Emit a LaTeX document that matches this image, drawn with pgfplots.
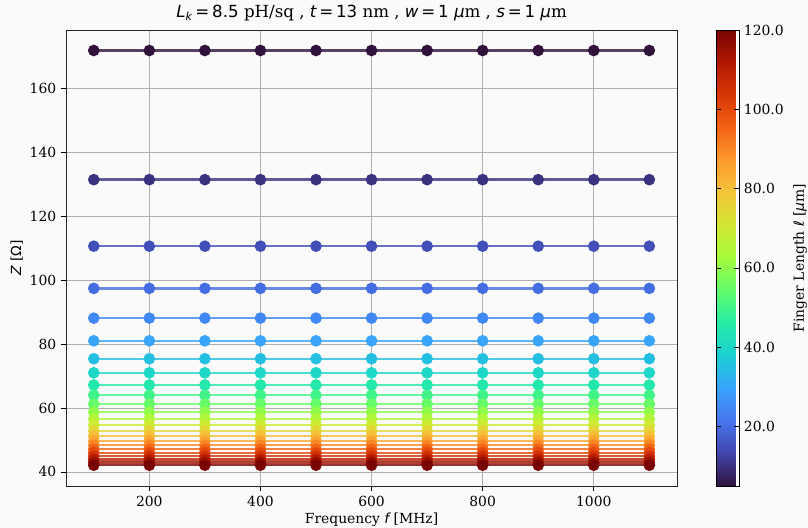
\documentclass[border=0pt]{standalone}
\usepackage{fontspec}
\setmainfont{DejaVu Serif}
\newfontfamily\dvs{DejaVu Sans}
\usepackage{pgfplots}
\pgfplotsset{compat=1.18}

% turbo colour map, 15 samples
\pgfplotsset{
  colormap={turbo}{
    rgb255=(48,18,59) rgb255=(65,69,171) rgb255=(70,117,237) rgb255=(57,162,252)
    rgb255=(27,207,212) rgb255=(36,236,166) rgb255=(97,252,108) rgb255=(164,252,59)
    rgb255=(209,232,52) rgb255=(243,198,58) rgb255=(254,155,45) rgb255=(243,99,21)
    rgb255=(217,56,6) rgb255=(177,25,1) rgb255=(122,4,2)
  }
}
\definecolor{bgc}{HTML}{FAFAFA}
\definecolor{gridc}{HTML}{B0B0B0}
\newcommand{\tfont}{\fontsize{10}{12}\selectfont}

\begin{document}
\begin{tikzpicture}
\useasboundingbox[fill=bgc] (-47.52pt,-30.24pt) rectangle (534.24pt,349.92pt);
\begin{axis}[
  at={(0,0)}, anchor=south west,
  scale only axis,
  width=440pt, height=328.3pt,
  xmin=50, xmax=1150, ymin=35.6, ymax=178.2,
  xtick={200,400,600,800,1000},
  ytick={40,60,80,100,120,140,160},
  grid=major,
  major grid style={gridc, line width=0.6pt},
  axis line style={black!85, line width=0.6pt},
  tick style={black, line width=0.6pt},
  tick align=outside, major tick length=3.5pt,
  xtick pos=bottom, ytick pos=left,
  /pgf/number format/assume math mode=true,
  /pgf/number format/1000 sep={},
  ticklabel style={font=\tfont},
  label style={font=\tfont},
  xlabel={Frequency {\dvs\itshape f} [MHz]},
  ylabel={{\dvs\itshape Z} [{\dvs Ω}]},
  xlabel style={yshift=2pt},
  ylabel style={yshift=-2pt},
  title style={font=\fontsize{12}{14}\selectfont, yshift=-3pt},
  title={{\dvs\itshape L\textsubscript{k}}{\dvs\,=\,8.5} pH/sq , {\dvs\itshape t}{\dvs\,=\,13} nm , {\dvs\itshape w}{\dvs\,=\,1} {\dvs\itshape µ}m , {\dvs\itshape s}{\dvs\,=\,1} {\dvs\itshape µ}m},
  axis background/.style={fill=bgc},
  colormap name=turbo,
  point meta min=5, point meta max=120,
  colorbar,
  colorbar shift/.style={xshift=28pt},
  colorbar style={
    at={(parent axis.north east)}, anchor=north west,
    width=16.6pt,
    font=\tfont,
    /pgf/number format/assume math mode=true,
    ytick={20,40,60,80,100,120},
    yticklabel={\pgfmathprintnumber[assume math mode=true,fixed,fixed zerofill,precision=1]{\tick}},
    yticklabel style={font=\tfont},
    ylabel={Finger Length {\dvs\itshape ℓ} [{\dvs\itshape µ}m]},
    ylabel style={font=\tfont, yshift=-2pt},
    ylabel near ticks, yticklabel pos=right,
    axis line style={black, line width=0.6pt},
    tick style={black, line width=0.6pt},
    major tick length=3.5pt,
  },
  every axis plot/.append style={line width=1.7pt, draw opacity=0.8,
    mark=*, mark size=3.3pt, mark options={solid, opacity=1}},
]
% finger length 5 um ... 120 um (colour value = (l-5)/115*1000)
\addplot[color of colormap={0}]      coordinates {(100,171.8)(200,171.8)(300,171.8)(400,171.8)(500,171.8)(600,171.8)(700,171.8)(800,171.8)(900,171.8)(1000,171.8)(1100,171.8)};
\addplot[color of colormap={43.48}]  coordinates {(100,131.4)(200,131.4)(300,131.4)(400,131.4)(500,131.4)(600,131.4)(700,131.4)(800,131.4)(900,131.4)(1000,131.4)(1100,131.4)};
\addplot[color of colormap={86.96}]  coordinates {(100,110.6)(200,110.6)(300,110.6)(400,110.6)(500,110.6)(600,110.6)(700,110.6)(800,110.6)(900,110.6)(1000,110.6)(1100,110.6)};
\addplot[color of colormap={130.43}] coordinates {(100,97.4)(200,97.4)(300,97.4)(400,97.4)(500,97.4)(600,97.4)(700,97.4)(800,97.4)(900,97.4)(1000,97.4)(1100,97.4)};
\addplot[color of colormap={173.91}] coordinates {(100,88.1)(200,88.1)(300,88.1)(400,88.1)(500,88.1)(600,88.1)(700,88.1)(800,88.1)(900,88.1)(1000,88.1)(1100,88.1)};
\addplot[color of colormap={217.39}] coordinates {(100,81.0)(200,81.0)(300,81.0)(400,81.0)(500,81.0)(600,81.0)(700,81.0)(800,81.0)(900,81.0)(1000,81.0)(1100,81.0)};
\addplot[color of colormap={260.87}] coordinates {(100,75.4)(200,75.4)(300,75.4)(400,75.4)(500,75.4)(600,75.4)(700,75.4)(800,75.4)(900,75.4)(1000,75.4)(1100,75.4)};
\addplot[color of colormap={304.35}] coordinates {(100,71.0)(200,71.0)(300,71.0)(400,71.0)(500,71.0)(600,71.0)(700,71.0)(800,71.0)(900,71.0)(1000,71.0)(1100,71.0)};
\addplot[color of colormap={347.83}] coordinates {(100,67.2)(200,67.2)(300,67.2)(400,67.2)(500,67.2)(600,67.2)(700,67.2)(800,67.2)(900,67.2)(1000,67.2)(1100,67.2)};
\addplot[color of colormap={391.30}] coordinates {(100,64.0)(200,64.0)(300,64.0)(400,64.0)(500,64.0)(600,64.0)(700,64.0)(800,64.0)(900,64.0)(1000,64.0)(1100,64.0)};
\addplot[color of colormap={434.78}] coordinates {(100,61.2)(200,61.2)(300,61.2)(400,61.2)(500,61.2)(600,61.2)(700,61.2)(800,61.2)(900,61.2)(1000,61.2)(1100,61.2)};
\addplot[color of colormap={478.26}] coordinates {(100,58.7)(200,58.7)(300,58.7)(400,58.7)(500,58.7)(600,58.7)(700,58.7)(800,58.7)(900,58.7)(1000,58.7)(1100,58.7)};
\addplot[color of colormap={521.74}] coordinates {(100,56.5)(200,56.5)(300,56.5)(400,56.5)(500,56.5)(600,56.5)(700,56.5)(800,56.5)(900,56.5)(1000,56.5)(1100,56.5)};
\addplot[color of colormap={565.22}] coordinates {(100,54.6)(200,54.6)(300,54.6)(400,54.6)(500,54.6)(600,54.6)(700,54.6)(800,54.6)(900,54.6)(1000,54.6)(1100,54.6)};
\addplot[color of colormap={608.70}] coordinates {(100,52.8)(200,52.8)(300,52.8)(400,52.8)(500,52.8)(600,52.8)(700,52.8)(800,52.8)(900,52.8)(1000,52.8)(1100,52.8)};
\addplot[color of colormap={652.17}] coordinates {(100,51.2)(200,51.2)(300,51.2)(400,51.2)(500,51.2)(600,51.2)(700,51.2)(800,51.2)(900,51.2)(1000,51.2)(1100,51.2)};
\addplot[color of colormap={695.65}] coordinates {(100,49.7)(200,49.7)(300,49.7)(400,49.7)(500,49.7)(600,49.7)(700,49.7)(800,49.7)(900,49.7)(1000,49.7)(1100,49.7)};
\addplot[color of colormap={739.13}] coordinates {(100,48.4)(200,48.4)(300,48.4)(400,48.4)(500,48.4)(600,48.4)(700,48.4)(800,48.4)(900,48.4)(1000,48.4)(1100,48.4)};
\addplot[color of colormap={782.61}] coordinates {(100,47.1)(200,47.1)(300,47.1)(400,47.1)(500,47.1)(600,47.1)(700,47.1)(800,47.1)(900,47.1)(1000,47.1)(1100,47.1)};
\addplot[color of colormap={826.09}] coordinates {(100,46.0)(200,46.0)(300,46.0)(400,46.0)(500,46.0)(600,46.0)(700,46.0)(800,46.0)(900,46.0)(1000,46.0)(1100,46.0)};
\addplot[color of colormap={869.57}] coordinates {(100,44.9)(200,44.9)(300,44.9)(400,44.9)(500,44.9)(600,44.9)(700,44.9)(800,44.9)(900,44.9)(1000,44.9)(1100,44.9)};
\addplot[color of colormap={913.04}] coordinates {(100,43.9)(200,43.9)(300,43.9)(400,43.9)(500,43.9)(600,43.9)(700,43.9)(800,43.9)(900,43.9)(1000,43.9)(1100,43.9)};
\addplot[color of colormap={956.52}] coordinates {(100,43.0)(200,43.0)(300,43.0)(400,43.0)(500,43.0)(600,43.0)(700,43.0)(800,43.0)(900,43.0)(1000,43.0)(1100,43.0)};
\addplot[color of colormap={1000}]   coordinates {(100,42.1)(200,42.1)(300,42.1)(400,42.1)(500,42.1)(600,42.1)(700,42.1)(800,42.1)(900,42.1)(1000,42.1)(1100,42.1)};
\end{axis}
\end{tikzpicture}
\end{document}
